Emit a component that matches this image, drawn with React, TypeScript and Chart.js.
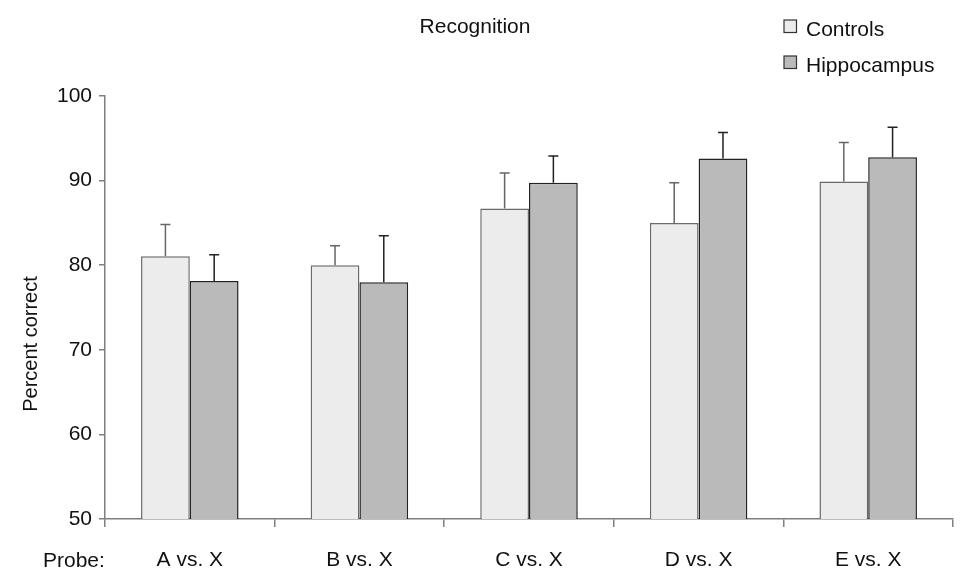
import React, { useEffect, useRef } from "react";
import { Chart, registerables } from "chart.js";

Chart.register(...registerables);

const categories = ["A vs. X", "B vs. X", "C vs. X", "D vs. X", "E vs. X"];
const controls = [81.05, 80.0, 86.7, 85.0, 89.9];
const controlsErr = [3.75, 2.3, 4.2, 4.75, 4.6];
const hippocampus = [78.13, 77.98, 89.75, 92.6, 92.75];
const hippocampusErr = [3.1, 5.5, 3.15, 3.1, 3.55];
const yTicks = [50, 60, 70, 80, 90, 100];

const FONT = "'Liberation Sans', Arial, sans-serif";

const errorBarPlugin = {
  id: "errorBars",
  afterDatasetsDraw(chart: any) {
    const ctx = chart.ctx;
    const yScale = chart.scales.y;
    const errs = [controlsErr, hippocampusErr];
    const colors = ["#666666", "#222222"];
    chart.data.datasets.forEach((ds: any, di: number) => {
      const meta = chart.getDatasetMeta(di);
      meta.data.forEach((bar: any, i: number) => {
        const v = ds.data[i];
        const top = yScale.getPixelForValue(v + errs[di][i]);
        const base = yScale.getPixelForValue(v);
        ctx.save();
        ctx.strokeStyle = colors[di];
        ctx.lineWidth = 1.5;
        ctx.beginPath();
        ctx.moveTo(bar.x, base);
        ctx.lineTo(bar.x, top);
        ctx.moveTo(bar.x - 5, top);
        ctx.lineTo(bar.x + 5, top);
        ctx.stroke();
        ctx.restore();
      });
    });
  },
};

const decorPlugin = {
  id: "decor",
  afterDraw(chart: any) {
    const ctx = chart.ctx;
    ctx.save();
    ctx.fillStyle = "#111";
    ctx.font = `21px ${FONT}`;
    ctx.textBaseline = "alphabetic";
    ctx.textAlign = "center";
    ctx.fillText("Recognition", 475, 33);

    // legend
    const items = [
      { label: "Controls", fill: "#ececec", y: 20 },
      { label: "Hippocampus", fill: "#bababa", y: 56 },
    ];
    items.forEach((it) => {
      ctx.fillStyle = it.fill;
      ctx.fillRect(784, it.y, 12.5, 12.5);
      ctx.strokeStyle = "#333";
      ctx.lineWidth = 1.2;
      ctx.strokeRect(784, it.y, 12.5, 12.5);
      ctx.fillStyle = "#111";
      ctx.textAlign = "left";
      ctx.fillText(it.label, 806, it.y + 16);
    });

    // Probe label
    ctx.textAlign = "left";
    ctx.textBaseline = "alphabetic";
    ctx.fillText("Probe:", 43, 566.5);

    // y title
    ctx.translate(37, 344);
    ctx.rotate(-Math.PI / 2);
    ctx.textAlign = "center";
    ctx.textBaseline = "alphabetic";
    ctx.font = `20px ${FONT}`;
    ctx.fillText("Percent correct", 0, 0);
    ctx.restore();
  },
};

export default function App() {
  const ref = useRef<HTMLCanvasElement>(null);
  useEffect(() => {
    document.body.style.margin = "0";
    const chart = new Chart(ref.current!, {
      type: "bar",
      data: {
        labels: categories,
        datasets: [
          {
            label: "Controls",
            data: controls,
            backgroundColor: "#ececec",
            borderColor: "#6a6a6a",
            borderWidth: 1.5,
            borderSkipped: "bottom",
          },
          {
            label: "Hippocampus",
            data: hippocampus,
            backgroundColor: "#bababa",
            borderColor: "#222222",
            borderWidth: 1.5,
            borderSkipped: "bottom",
          },
        ],
      },
      options: {
        responsive: false,
        animation: false,
        layout: { padding: { left: 0, right: 8, top: 96, bottom: 0 } },
        datasets: { bar: { categoryPercentage: 0.575, barPercentage: 1 } },
        plugins: {
          legend: { display: false },
          tooltip: { enabled: false },
        },
        scales: {
          x: {
            offset: true,
            grid: {
              offset: true,
              drawOnChartArea: false,
              drawTicks: true,
              tickLength: 8,
              color: "#7f7f7f",
              lineWidth: 1.5,
            },
            border: { display: true, color: "#7f7f7f", width: 1.5 },
            ticks: {
              color: "#111",
              font: { family: FONT, size: 21 },
              padding: 21,
              maxRotation: 0,
            },
            afterFit(scale: any) {
              scale.height = 53;
            },
          },
          y: {
            min: 50,
            max: 100,
            afterBuildTicks(scale: any) {
              scale.ticks = yTicks.map((v) => ({ value: v }));
            },
            grid: {
              drawOnChartArea: false,
              drawTicks: true,
              tickLength: 6,
              color: "#7f7f7f",
              lineWidth: 1.5,
            },
            border: { display: true, color: "#7f7f7f", width: 1.5 },
            ticks: {
              color: "#111",
              font: { family: FONT, size: 21 },
              padding: 7,
            },
            afterFit(scale: any) {
              scale.width = 105;
            },
          },
        },
      },
      plugins: [errorBarPlugin, decorPlugin],
    });
    return () => chart.destroy();
  }, []);
  return <canvas ref={ref} width={961} height={572} />;
}
